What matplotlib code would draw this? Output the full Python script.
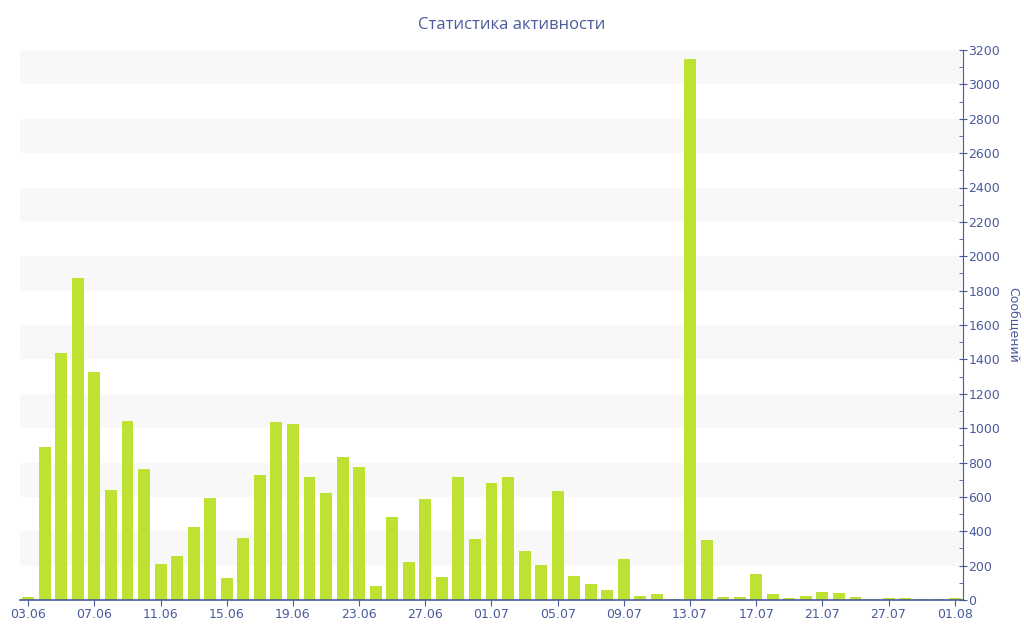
import matplotlib.pyplot as plt
from matplotlib.ticker import MultipleLocator

# dates of active days (categorical axis, some days missing at the end)
days = ['%02d.06' % d for d in range(3, 31)] + ['%02d.07' % d for d in range(1, 25)] \
    + ['27.07', '28.07', '29.07', '30.07', '01.08']

messages = [15, 890, 1437, 1873, 1326, 640, 1041, 762, 209, 256,
            425, 593, 128, 361, 727, 1035, 1024, 716, 622, 832,
            774, 81, 483, 221, 588, 134, 716, 355, 681, 716,
            285, 204, 634, 140, 93, 58, 239, 25, 35, 6,
            3147, 349, 17, 17, 150, 33, 12, 21, 46, 39,
            16, 8, 14, 14, 8, 8, 14]

blue = '#4a5a9c'
green = '#bde232'

fig = plt.figure(figsize=(10.24, 6.4), dpi=100)
ax = fig.add_axes([20 / 1024, 1 - 600 / 640, 943 / 1024, 550 / 640])

x = list(range(len(days)))
ax.bar(x, messages, width=0.72, color=green, zorder=2)

# alternating bands
for lo in range(200, 3200, 400):
    ax.axhspan(lo, lo + 200, color='#f8f8f8', zorder=0, lw=0)

ax.set_xlim(-0.5, len(days) - 0.5)
ax.set_ylim(0, 3200)

ax.set_xticks(x[::4])
ax.set_xticklabels(days[::4])

ax.yaxis.tick_right()
ax.yaxis.set_label_position('right')
ax.yaxis.set_major_locator(MultipleLocator(200))
ax.yaxis.set_minor_locator(MultipleLocator(100))
ax.set_ylabel('Сообщений', color=blue, fontsize=9, rotation=270, labelpad=14)

for s in ['top', 'left']:
    ax.spines[s].set_visible(False)
ax.spines['right'].set_color(blue)
ax.spines['bottom'].set_color(blue)
ax.spines['bottom'].set_linewidth(1.2)

ax.tick_params(axis='y', which='major', direction='inout', length=6, color=blue,
               labelcolor=blue, labelsize=9, pad=1)
ax.tick_params(axis='y', which='minor', direction='in', length=3, color=blue)
ax.tick_params(axis='x', direction='out', length=4, color=blue, labelcolor=blue,
               labelsize=9, pad=2)

fig.text(0.5, 1 - 25 / 640, 'Статистика активности', ha='center', va='center',
         color=blue, fontsize=12, family='Open Sans')

fig.savefig('out.png', dpi=100, facecolor='white')
